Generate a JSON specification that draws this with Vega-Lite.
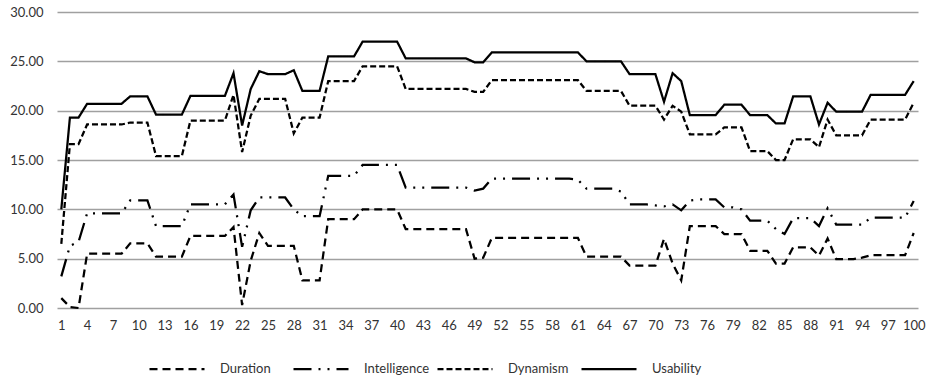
{
  "$schema": "https://vega.github.io/schema/vega-lite/v6.json",
  "width": 861,
  "height": 296,
  "autosize": {"type": "none"},
  "padding": {"left": 57, "top": 12, "right": 12, "bottom": 78},
  "config": {"view": {"stroke": null}, "font": "Lato"},
  "data": {"values": [
    {"x":1,"Duration":1.0,"Intelligence":3.2,"Dynamism":6.5,"Usability":10.0},
    {"x":2,"Duration":0.1,"Intelligence":6.3,"Dynamism":16.6,"Usability":19.3},
    {"x":3,"Duration":0.0,"Intelligence":6.7,"Dynamism":16.6,"Usability":19.3},
    {"x":4,"Duration":5.5,"Intelligence":9.6,"Dynamism":18.6,"Usability":20.7},
    {"x":5,"Duration":5.5,"Intelligence":9.6,"Dynamism":18.6,"Usability":20.7},
    {"x":6,"Duration":5.5,"Intelligence":9.6,"Dynamism":18.6,"Usability":20.7},
    {"x":7,"Duration":5.5,"Intelligence":9.6,"Dynamism":18.6,"Usability":20.7},
    {"x":8,"Duration":5.5,"Intelligence":9.6,"Dynamism":18.6,"Usability":20.7},
    {"x":9,"Duration":6.55,"Intelligence":10.9,"Dynamism":18.8,"Usability":21.45},
    {"x":10,"Duration":6.55,"Intelligence":10.9,"Dynamism":18.8,"Usability":21.45},
    {"x":11,"Duration":6.55,"Intelligence":10.9,"Dynamism":18.8,"Usability":21.45},
    {"x":12,"Duration":5.2,"Intelligence":8.3,"Dynamism":15.4,"Usability":19.6},
    {"x":13,"Duration":5.2,"Intelligence":8.3,"Dynamism":15.4,"Usability":19.6},
    {"x":14,"Duration":5.2,"Intelligence":8.3,"Dynamism":15.4,"Usability":19.6},
    {"x":15,"Duration":5.2,"Intelligence":8.3,"Dynamism":15.4,"Usability":19.6},
    {"x":16,"Duration":7.3,"Intelligence":10.5,"Dynamism":19.0,"Usability":21.5},
    {"x":17,"Duration":7.3,"Intelligence":10.5,"Dynamism":19.0,"Usability":21.5},
    {"x":18,"Duration":7.3,"Intelligence":10.5,"Dynamism":19.0,"Usability":21.5},
    {"x":19,"Duration":7.3,"Intelligence":10.5,"Dynamism":19.0,"Usability":21.5},
    {"x":20,"Duration":7.3,"Intelligence":10.5,"Dynamism":19.0,"Usability":21.5},
    {"x":21,"Duration":8.2,"Intelligence":11.5,"Dynamism":21.6,"Usability":23.8},
    {"x":22,"Duration":0.3,"Intelligence":6.2,"Dynamism":15.8,"Usability":18.5},
    {"x":23,"Duration":4.8,"Intelligence":9.9,"Dynamism":19.5,"Usability":22.2},
    {"x":24,"Duration":7.6,"Intelligence":11.2,"Dynamism":21.2,"Usability":24.0},
    {"x":25,"Duration":6.3,"Intelligence":11.2,"Dynamism":21.2,"Usability":23.7},
    {"x":26,"Duration":6.3,"Intelligence":11.2,"Dynamism":21.2,"Usability":23.7},
    {"x":27,"Duration":6.3,"Intelligence":11.2,"Dynamism":21.2,"Usability":23.7},
    {"x":28,"Duration":6.3,"Intelligence":10.0,"Dynamism":17.7,"Usability":24.1},
    {"x":29,"Duration":2.8,"Intelligence":9.3,"Dynamism":19.3,"Usability":22.0},
    {"x":30,"Duration":2.8,"Intelligence":9.3,"Dynamism":19.3,"Usability":22.0},
    {"x":31,"Duration":2.8,"Intelligence":9.3,"Dynamism":19.3,"Usability":22.0},
    {"x":32,"Duration":9.0,"Intelligence":13.4,"Dynamism":23.0,"Usability":25.5},
    {"x":33,"Duration":9.0,"Intelligence":13.4,"Dynamism":23.0,"Usability":25.5},
    {"x":34,"Duration":9.0,"Intelligence":13.4,"Dynamism":23.0,"Usability":25.5},
    {"x":35,"Duration":9.0,"Intelligence":13.4,"Dynamism":23.0,"Usability":25.5},
    {"x":36,"Duration":10.0,"Intelligence":14.5,"Dynamism":24.5,"Usability":27.0},
    {"x":37,"Duration":10.0,"Intelligence":14.5,"Dynamism":24.5,"Usability":27.0},
    {"x":38,"Duration":10.0,"Intelligence":14.5,"Dynamism":24.5,"Usability":27.0},
    {"x":39,"Duration":10.0,"Intelligence":14.5,"Dynamism":24.5,"Usability":27.0},
    {"x":40,"Duration":10.0,"Intelligence":14.5,"Dynamism":24.5,"Usability":27.0},
    {"x":41,"Duration":8.0,"Intelligence":12.2,"Dynamism":22.2,"Usability":25.3},
    {"x":42,"Duration":8.0,"Intelligence":12.2,"Dynamism":22.2,"Usability":25.3},
    {"x":43,"Duration":8.0,"Intelligence":12.2,"Dynamism":22.2,"Usability":25.3},
    {"x":44,"Duration":8.0,"Intelligence":12.2,"Dynamism":22.2,"Usability":25.3},
    {"x":45,"Duration":8.0,"Intelligence":12.2,"Dynamism":22.2,"Usability":25.3},
    {"x":46,"Duration":8.0,"Intelligence":12.2,"Dynamism":22.2,"Usability":25.3},
    {"x":47,"Duration":8.0,"Intelligence":12.2,"Dynamism":22.2,"Usability":25.3},
    {"x":48,"Duration":8.0,"Intelligence":12.2,"Dynamism":22.2,"Usability":25.3},
    {"x":49,"Duration":5.0,"Intelligence":11.9,"Dynamism":21.9,"Usability":24.9},
    {"x":50,"Duration":5.1,"Intelligence":12.1,"Dynamism":21.9,"Usability":24.9},
    {"x":51,"Duration":7.1,"Intelligence":13.1,"Dynamism":23.1,"Usability":25.9},
    {"x":52,"Duration":7.1,"Intelligence":13.1,"Dynamism":23.1,"Usability":25.9},
    {"x":53,"Duration":7.1,"Intelligence":13.1,"Dynamism":23.1,"Usability":25.9},
    {"x":54,"Duration":7.1,"Intelligence":13.1,"Dynamism":23.1,"Usability":25.9},
    {"x":55,"Duration":7.1,"Intelligence":13.1,"Dynamism":23.1,"Usability":25.9},
    {"x":56,"Duration":7.1,"Intelligence":13.1,"Dynamism":23.1,"Usability":25.9},
    {"x":57,"Duration":7.1,"Intelligence":13.1,"Dynamism":23.1,"Usability":25.9},
    {"x":58,"Duration":7.1,"Intelligence":13.1,"Dynamism":23.1,"Usability":25.9},
    {"x":59,"Duration":7.1,"Intelligence":13.1,"Dynamism":23.1,"Usability":25.9},
    {"x":60,"Duration":7.1,"Intelligence":13.1,"Dynamism":23.1,"Usability":25.9},
    {"x":61,"Duration":7.1,"Intelligence":13.0,"Dynamism":23.1,"Usability":25.9},
    {"x":62,"Duration":5.2,"Intelligence":12.1,"Dynamism":22.0,"Usability":25.0},
    {"x":63,"Duration":5.2,"Intelligence":12.1,"Dynamism":22.0,"Usability":25.0},
    {"x":64,"Duration":5.2,"Intelligence":12.1,"Dynamism":22.0,"Usability":25.0},
    {"x":65,"Duration":5.2,"Intelligence":12.1,"Dynamism":22.0,"Usability":25.0},
    {"x":66,"Duration":5.2,"Intelligence":11.8,"Dynamism":22.0,"Usability":25.0},
    {"x":67,"Duration":4.3,"Intelligence":10.5,"Dynamism":20.5,"Usability":23.7},
    {"x":68,"Duration":4.3,"Intelligence":10.5,"Dynamism":20.5,"Usability":23.7},
    {"x":69,"Duration":4.3,"Intelligence":10.5,"Dynamism":20.5,"Usability":23.7},
    {"x":70,"Duration":4.3,"Intelligence":10.4,"Dynamism":20.5,"Usability":23.7},
    {"x":71,"Duration":7.0,"Intelligence":10.3,"Dynamism":19.1,"Usability":20.9},
    {"x":72,"Duration":4.5,"Intelligence":10.5,"Dynamism":20.5,"Usability":23.8},
    {"x":73,"Duration":2.8,"Intelligence":9.9,"Dynamism":19.9,"Usability":23.0},
    {"x":74,"Duration":8.3,"Intelligence":10.9,"Dynamism":17.6,"Usability":19.55},
    {"x":75,"Duration":8.3,"Intelligence":11.0,"Dynamism":17.6,"Usability":19.55},
    {"x":76,"Duration":8.3,"Intelligence":11.0,"Dynamism":17.6,"Usability":19.55},
    {"x":77,"Duration":8.3,"Intelligence":11.0,"Dynamism":17.6,"Usability":19.55},
    {"x":78,"Duration":7.5,"Intelligence":10.2,"Dynamism":18.3,"Usability":20.6},
    {"x":79,"Duration":7.5,"Intelligence":10.2,"Dynamism":18.3,"Usability":20.6},
    {"x":80,"Duration":7.5,"Intelligence":10.0,"Dynamism":18.3,"Usability":20.6},
    {"x":81,"Duration":5.8,"Intelligence":8.85,"Dynamism":15.9,"Usability":19.55},
    {"x":82,"Duration":5.8,"Intelligence":8.85,"Dynamism":15.9,"Usability":19.55},
    {"x":83,"Duration":5.8,"Intelligence":8.85,"Dynamism":15.9,"Usability":19.55},
    {"x":84,"Duration":4.5,"Intelligence":8.0,"Dynamism":15.0,"Usability":18.7},
    {"x":85,"Duration":4.5,"Intelligence":7.5,"Dynamism":15.0,"Usability":18.7},
    {"x":86,"Duration":6.15,"Intelligence":9.1,"Dynamism":17.1,"Usability":21.45},
    {"x":87,"Duration":6.15,"Intelligence":9.1,"Dynamism":17.1,"Usability":21.45},
    {"x":88,"Duration":6.15,"Intelligence":9.1,"Dynamism":17.1,"Usability":21.45},
    {"x":89,"Duration":5.3,"Intelligence":8.3,"Dynamism":16.3,"Usability":18.6},
    {"x":90,"Duration":7.05,"Intelligence":10.1,"Dynamism":19.1,"Usability":20.8},
    {"x":91,"Duration":4.95,"Intelligence":8.45,"Dynamism":17.5,"Usability":19.9},
    {"x":92,"Duration":4.95,"Intelligence":8.45,"Dynamism":17.5,"Usability":19.9},
    {"x":93,"Duration":4.95,"Intelligence":8.45,"Dynamism":17.5,"Usability":19.9},
    {"x":94,"Duration":5.1,"Intelligence":8.45,"Dynamism":17.5,"Usability":19.9},
    {"x":95,"Duration":5.35,"Intelligence":9.15,"Dynamism":19.1,"Usability":21.6},
    {"x":96,"Duration":5.35,"Intelligence":9.15,"Dynamism":19.1,"Usability":21.6},
    {"x":97,"Duration":5.35,"Intelligence":9.15,"Dynamism":19.1,"Usability":21.6},
    {"x":98,"Duration":5.35,"Intelligence":9.15,"Dynamism":19.1,"Usability":21.6},
    {"x":99,"Duration":5.35,"Intelligence":9.15,"Dynamism":19.1,"Usability":21.6},
    {"x":100,"Duration":7.6,"Intelligence":10.85,"Dynamism":20.8,"Usability":23.0}
  ]},
  "transform": [{"fold": ["Duration", "Intelligence", "Dynamism", "Usability"], "as": ["series", "value"]}],
  "mark": {"type": "line", "color": "black", "strokeWidth": 2.25},
  "encoding": {
    "x": {
      "field": "x", "type": "ordinal",
      "scale": {"type": "point", "padding": 0.5},
      "axis": {
        "values": [1,4,7,10,13,16,19,22,25,28,31,34,37,40,43,46,49,52,55,58,61,64,67,70,73,76,79,82,85,88,91,94,97,100],
        "labelAngle": 0, "ticks": false, "domain": false, "grid": false,
        "labelPadding": 11, "labelFontSize": 13, "labelColor": "#333333", "title": null
      }
    },
    "y": {
      "field": "value", "type": "quantitative",
      "scale": {"domain": [0, 30], "nice": false},
      "axis": {
        "values": [0,5,10,15,20,25,30], "format": ".2f",
        "ticks": false, "domain": false,
        "gridColor": "#a0a0a0", "gridWidth": 1.5,
        "labelPadding": 14, "labelFontSize": 13, "labelColor": "#333333", "title": null
      }
    },
    "strokeDash": {
      "field": "series", "type": "nominal",
      "scale": {
        "domain": ["Duration", "Intelligence", "Dynamism", "Usability"],
        "range": [[8,5],[18,7,2,7,2,7],[6,3],[1,0]]
      },
      "legend": {
        "title": null, "orient": "none", "legendX": 91, "legendY": 328,
        "direction": "horizontal", "columns": 4, "gridAlign": "all",
        "symbolType": "stroke", "symbolSize": 3025, "symbolStrokeWidth": 2.25,
        "symbolStrokeColor": "black", "labelFontSize": 13, "labelColor": "#333333",
        "columnPadding": 3, "labelOffset": 14
      }
    }
  }
}
